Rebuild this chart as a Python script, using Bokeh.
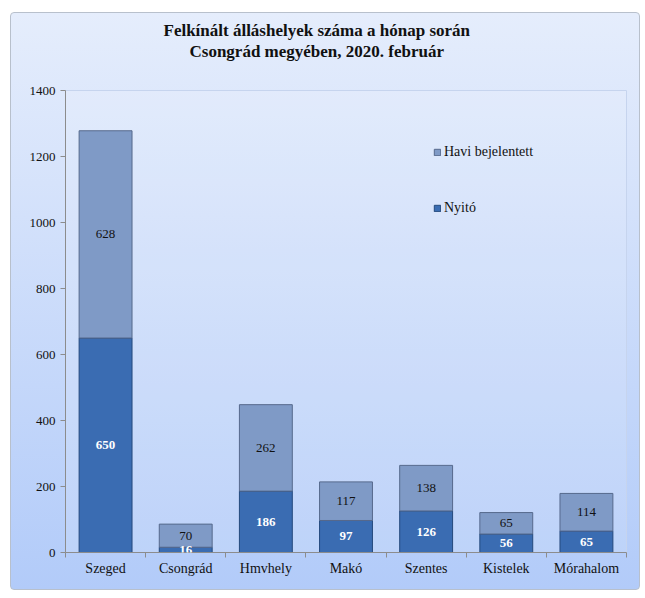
from bokeh.plotting import figure
from bokeh.models import ColumnDataSource, FixedTicker, Legend, LegendItem, InlineStyleSheet, LabelSet, Range1d, Title
from bokeh.embed import file_html
from bokeh.resources import INLINE

categories = ["Szeged", "Csongrád", "Hmvhely", "Makó", "Szentes", "Kistelek", "Mórahalom"]
nyito = [650, 16, 186, 97, 126, 56, 65]
havi = [628, 70, 262, 117, 138, 65, 114]
y_ticks = [0, 200, 400, 600, 800, 1000, 1200, 1400]
title_lines = ["Felkínált álláshelyek száma a hónap során", "Csongrád megyében, 2020. február"]

xs = list(range(len(categories)))
src = ColumnDataSource(dict(
    x=xs, nyito=nyito, havi=havi,
    nyito_mid=[n / 2 for n in nyito],
    havi_mid=[n + h / 2 for n, h in zip(nyito, havi)],
    nyito_txt=[str(v) for v in nyito],
    havi_txt=[str(v) for v in havi],
))

FONT = "Liberation Serif"

p = figure(width=630, height=578, output_backend="svg", toolbar_location=None, title=None,
           x_range=Range1d(-0.5, len(categories) - 0.5), y_range=Range1d(0, 1400),
           min_border_left=54, min_border_right=15, min_border_top=77, min_border_bottom=39)
p.styles = {"margin-left": "10px", "margin-top": "12px"}
p.stylesheets = [InlineStyleSheet(css=":host { background: linear-gradient(#e5edfc, #b2cbf9); border: 1px solid #b8c0cc; border-radius: 4px; }")]
p.border_fill_alpha = 0
p.background_fill_color = "#ffffff"
p.background_fill_alpha = 0.12
p.outline_line_color = "#c6d4ee"
p.grid.visible = False

spacer = Title(text=" ", text_font_size="16px", standoff=11)
t2 = Title(text=title_lines[1], align="left", offset=124, text_font=FONT, text_font_size="17px",
           text_font_style="bold", text_color="#111111", standoff=0)
t1 = Title(text=title_lines[0], align="left", offset=98, text_font=FONT, text_font_size="17px",
           text_font_style="bold", text_color="#111111", standoff=0)
p.add_layout(spacer, "above")
p.add_layout(t2, "above")
p.add_layout(t1, "above")

r = p.vbar_stack(["nyito", "havi"], x="x", width=0.66, source=src,
                 fill_color=["#3a6cb2", "#7f9ac6"], line_color=["#24497c", "#56698c"], line_width=1)

p.add_layout(LabelSet(x="x", y="nyito_mid", text="nyito_txt", source=src, text_align="center",
                      text_baseline="middle", text_color="white", text_font=FONT,
                      text_font_style="bold", text_font_size="13px"))
p.add_layout(LabelSet(x="x", y="havi_mid", text="havi_txt", source=src, text_align="center",
                      text_baseline="middle", text_color="#111111", text_font=FONT,
                      text_font_size="13px"))

legend = Legend(items=[LegendItem(label="Havi bejelentett", renderers=[r[1]]),
                       LegendItem(label="Nyitó", renderers=[r[0]])],
                location=(368, 336), padding=0, margin=0, spacing=40,
                glyph_width=8, glyph_height=8, label_height=16, label_standoff=3,
                label_text_font=FONT, label_text_font_size="14px", label_text_color="#111111",
                border_line_alpha=0, background_fill_alpha=0)
p.add_layout(legend)

p.yaxis.ticker = FixedTicker(ticks=y_ticks)
p.yaxis.axis_line_color = "#8c8c8c"
p.yaxis.major_tick_line_color = "#8c8c8c"
p.yaxis.major_tick_out = 5
p.yaxis.major_tick_in = 0
p.yaxis.minor_tick_line_color = None
p.yaxis.major_label_text_font = FONT
p.yaxis.major_label_text_font_size = "13px"
p.yaxis.major_label_text_color = "#111111"

p.xaxis.ticker = FixedTicker(ticks=xs, minor_ticks=[i - 0.5 for i in range(len(categories) + 1)])
p.xaxis.major_label_overrides = {i: c for i, c in enumerate(categories)}
p.xaxis.axis_line_color = "#8c8c8c"
p.xaxis.major_tick_line_color = None
p.xaxis.major_tick_out = 0
p.xaxis.major_tick_in = 0
p.xaxis.minor_tick_line_color = "#8c8c8c"
p.xaxis.minor_tick_out = 5
p.xaxis.minor_tick_in = 0
p.xaxis.major_label_standoff = 3
p.xaxis.major_label_text_font = FONT
p.xaxis.major_label_text_font_size = "14px"
p.xaxis.major_label_text_color = "#111111"

open("out.html", "w").write(file_html(p, INLINE))
